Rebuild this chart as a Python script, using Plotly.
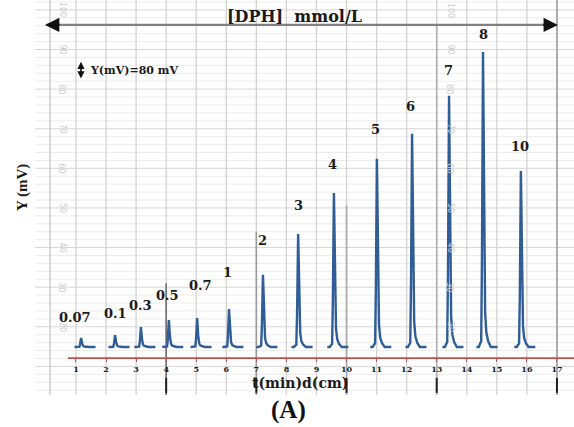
import plotly.graph_objects as go

# ---- data -------------------------------------------------------------
concentrations = ["0.07", "0.1", "0.3", "0.5", "0.7", "1", "2", "3", "4",
                  "5", "6", "7", "8", "10"]           # [DPH] mmol/L
retention_min = [1.17, 2.30, 3.16, 4.09, 5.03, 6.09, 7.22, 8.39, 9.58,
                 11.01, 12.18, 13.41, 14.54, 15.80]    # peak apex, t (min)
peak_height_mv = [2.3, 3.0, 5.0, 6.8, 7.3, 9.6, 18.2, 28.5, 38.9,
                  47.5, 53.8, 63.4, 74.5, 44.4]        # height above baseline
baseline_mv = 14.9
time_ticks = list(range(1, 18))
paper_scale_labels = [20, 30, 40, 50, 60, 70, 80, 90, 100]

# ---- figure geometry --------------------------------------------------
W, H = 574, 427
X_RANGE = [-1.528, 17.567]
Y_RANGE = [-5.3, 102.5]
AXIS_Y = 12.1          # recorder time axis (mV level on the chart paper)
PAPER_BOTTOM = 2.8
PAPER_TOP = Y_RANGE[1]

SERIF_B = dict(family="DejaVu Serif", weight="bold", color="#1a1a1a")

# normalised peak profile: offset (min) / fraction of peak height
PROFILE_DX = [-0.22, -0.14, -0.06, -0.035, 0.0, 0.035, 0.07, 0.11, 0.17, 0.26, 0.48]
PROFILE_FR = [0.0, 0.0, 0.02, 0.3, 1.0, 0.4, 0.12, 0.05, 0.02, 0.0, 0.0]

xs, ys = [], []
for rt, h in zip(retention_min, peak_height_mv):
    for dx, fr in zip(PROFILE_DX, PROFILE_FR):
        xs.append(rt + dx)
        ys.append(baseline_mv + fr * h)
    xs.append(None)
    ys.append(None)

fig = go.Figure()

shapes = []
# chart-paper grid: horizontal rules
v = 4
while v <= 102:
    shapes.append(dict(type="line", xref="x", yref="y", x0=-0.36, x1=17.6,
                       y0=v, y1=v, layer="below",
                       line=dict(color="#d6d6d6" if v % 10 == 0 else "#ececec",
                                 width=1)))
    v += 2
# chart-paper grid: vertical rules
for t in time_ticks:
    shapes.append(dict(type="line", xref="x", yref="y", x0=t, x1=t,
                       y0=PAPER_BOTTOM, y1=PAPER_TOP, layer="below",
                       line=dict(color="#d2d2d2", width=1.3)))
shapes.append(dict(type="line", xref="x", yref="y", x0=0.135, x1=0.135,
                   y0=PAPER_BOTTOM, y1=PAPER_TOP, layer="below",
                   line=dict(color="#c8c8c8", width=1.3)))
# heavier rules of the paper
for t, top, col in [(4, 31.0, "#6e6e6e"), (7, 44.0, "#9a9a9a"),
                    (10, 50.7, "#a8a8a8"), (13, 96.0, "#b0b0b0"),
                    (17, PAPER_TOP, "#a0a0a0")]:
    shapes.append(dict(type="line", xref="x", yref="y", x0=t, x1=t,
                       y0=PAPER_BOTTOM, y1=top, layer="below",
                       line=dict(color=col, width=1.6)))
for t in [4, 7, 10, 13, 17]:
    shapes.append(dict(type="line", xref="x", yref="y", x0=t, x1=t,
                       y0=3.3, y1=7.1, layer="below",
                       line=dict(color="#222222", width=2)))
# recorder time axis
shapes.append(dict(type="line", xref="x", yref="y", x0=0.734, x1=17.6,
                   y0=AXIS_Y, y1=AXIS_Y,
                   line=dict(color="#c0504d", width=1.6)))
# shaft of the concentration arrow
shapes.append(dict(type="line", xref="x", yref="y", x0=0.0, x1=16.95,
                   y0=96.2, y1=96.2, line=dict(color="#808080", width=2.2)))

fig.add_trace(go.Scatter(x=xs, y=ys, mode="lines", hoverinfo="skip",
                         line=dict(color="#2f5d97", width=2.4),
                         showlegend=False))


def paper_text(px, py, text, font, **kw):
    d = dict(x=px / W, y=1 - py / H, xref="paper", yref="paper",
             xanchor="center", yanchor="middle", text=text,
             showarrow=False, font=font)
    d.update(kw)
    return d


ann = []
# arrow heads of the concentration arrow
ann.append(dict(x=-0.03, y=96.2, ax=0.5, ay=96.2, xref="x", yref="y",
                axref="x", ayref="y", showarrow=True, arrowhead=2,
                arrowsize=1.3, arrowwidth=2.2, arrowcolor="#111111", text=""))
ann.append(dict(x=17.03, y=96.2, ax=16.5, ay=96.2, xref="x", yref="y",
                axref="x", ayref="y", showarrow=True, arrowhead=2,
                arrowsize=1.3, arrowwidth=2.2, arrowcolor="#111111", text=""))
ann.append(paper_text(294, 16, "[DPH]&nbsp;&nbsp;mmol/L",
                      dict(size=16, **SERIF_B)))
# scale marker
ann.append(dict(x=1.166, y=86.9, ax=1.166, ay=82.3, xref="x", yref="y",
                axref="x", ayref="y", showarrow=True, arrowhead=2,
                startarrowhead=2, arrowside="end+start", arrowsize=0.9,
                arrowwidth=1.6, arrowcolor="#111111", text=""))
ann.append(paper_text(88, 71, "Y(mV)=80 mV", dict(size=11, **SERIF_B),
                      xanchor="left"))
# faint printed scale of the chart paper
for px in (62, 450):
    for val in paper_scale_labels:
        ann.append(dict(x=1 + (px - 76) / 30.06, y=val, xref="x", yref="y",
                        text=str(val), showarrow=False, textangle=90,
                        font=dict(size=8, family="DejaVu Sans", color="#cdcdcd")))
# concentration labels above peaks
label_lift_px = [20, 22, 22, 25, 33, 36, 34, 29, 28, 29, 27, 25, 17, 25]
label_nudge_px = [-6, 0, 0, -1, 3, -2, 0, 0, -1, -1, -2, -1, 0, -1]
for c, rt, h, lift, nudge in zip(concentrations, retention_min,
                                 peak_height_mv, label_lift_px, label_nudge_px):
    ann.append(dict(x=rt, y=baseline_mv + h, xref="x", yref="y", text=c,
                    showarrow=False, yshift=lift, xshift=nudge,
                    font=dict(size=13, **SERIF_B)))
ann.append(paper_text(22, 188, "Y (mV)",
                      dict(size=15, family="Liberation Serif", weight="bold",
                           color="#1a1a1a"), textangle=-90))
ann.append(paper_text(300, 383, "t(min)d(cm)", dict(size=14, **SERIF_B)))
ann.append(paper_text(288, 410, "(A)",
                      dict(size=25, family="Liberation Serif", weight="bold",
                           color="#111111")))

fig.update_layout(
    width=W, height=H, margin=dict(l=0, r=0, t=0, b=0),
    paper_bgcolor="white", plot_bgcolor="white",
    shapes=shapes, annotations=ann, showlegend=False,
    xaxis=dict(range=X_RANGE, anchor="free", position=(H - 358) / H,
               showgrid=False, zeroline=False, showline=False,
               tickmode="array", tickvals=time_ticks,
               ticktext=[str(t) for t in time_ticks],
               ticks="outside", ticklen=3, tickwidth=1.4, tickcolor="#c0504d",
               tickfont=dict(size=8, **SERIF_B), fixedrange=True),
    yaxis=dict(range=Y_RANGE, visible=False, fixedrange=True),
)

fig.write_html("out.html")
